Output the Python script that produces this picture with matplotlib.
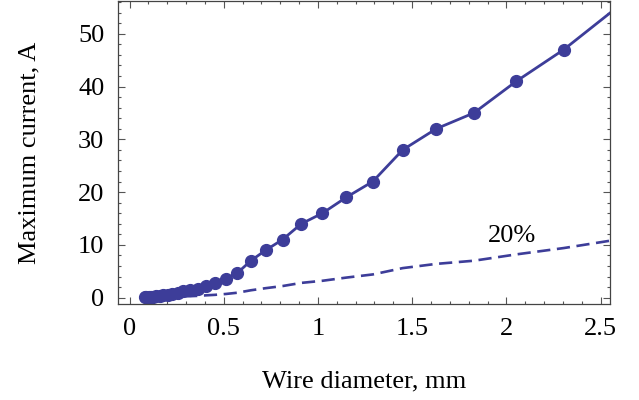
import matplotlib.pyplot as plt
from matplotlib.ticker import MultipleLocator

# wire diameter (mm) and max current (A), AWG 40 .. 10
diameter = [0.0799, 0.0897, 0.101, 0.113, 0.127, 0.143, 0.160, 0.180, 0.202, 0.227,
            0.255, 0.286, 0.321, 0.361, 0.405, 0.455, 0.511, 0.573, 0.644, 0.723,
            0.812, 0.912, 1.024, 1.150, 1.291, 1.450, 1.628, 1.828, 2.053, 2.305, 2.588]
current = [0.09, 0.11, 0.13, 0.17, 0.21, 0.27, 0.33, 0.43, 0.53, 0.7,
           0.86, 1.2, 1.4, 1.7, 2.2, 2.7, 3.5, 4.7, 7, 9,
           11, 14, 16, 19, 22, 28, 32, 35, 41, 47, 55]
current_20 = [0.018, 0.022, 0.026, 0.034, 0.042, 0.054, 0.066, 0.086, 0.106, 0.14,
              0.172, 0.24, 0.28, 0.34, 0.44, 0.54, 0.7, 0.94, 1.4, 1.8,
              2.2, 2.8, 3.2, 3.8, 4.4, 5.6, 6.4, 7.0, 8.2, 9.4, 11.0]

col = '#3d3d99'
plt.rcParams['font.family'] = ['Liberation Serif', 'DejaVu Serif']

fig = plt.figure(figsize=(6.39, 4), dpi=100)
ax = fig.add_axes([0.185, 0.24, 0.7696, 0.7575])

ax.plot(diameter, current_20, '--', color=col, lw=1.9, dashes=(5, 2.5))
ax.plot(diameter, current, '-o', color=col, lw=2.0, ms=8.5)
ax.text(2.03, 11.6, '20%', fontsize=19, ha='center', va='center')

ax.set_xlim(-0.06, 2.55)
ax.set_ylim(-1.2, 56.2)
ax.xaxis.set_major_locator(MultipleLocator(0.5))
ax.xaxis.set_minor_locator(MultipleLocator(0.1))
ax.yaxis.set_major_locator(MultipleLocator(10))
ax.yaxis.set_minor_locator(MultipleLocator(2))
ax.set_xticks([0, 0.5, 1, 1.5, 2, 2.5], ['0', '0.5', '1', '1.5', '2', '2.5'])

ax.tick_params(which='both', direction='in', top=True, right=True, color='#555555',
               labelsize=19, width=0.8)
ax.tick_params(which='major', length=5, pad=10)
ax.tick_params(which='minor', length=2.5)
for s in ax.spines.values():
    s.set_color('#444444')
    s.set_linewidth(0.9)

ax.set_xlabel('Wire diameter, mm', fontsize=19, labelpad=22)
ax.set_ylabel('Maximum current, A', fontsize=19, labelpad=27)

fig.savefig('out.png', dpi=100)
